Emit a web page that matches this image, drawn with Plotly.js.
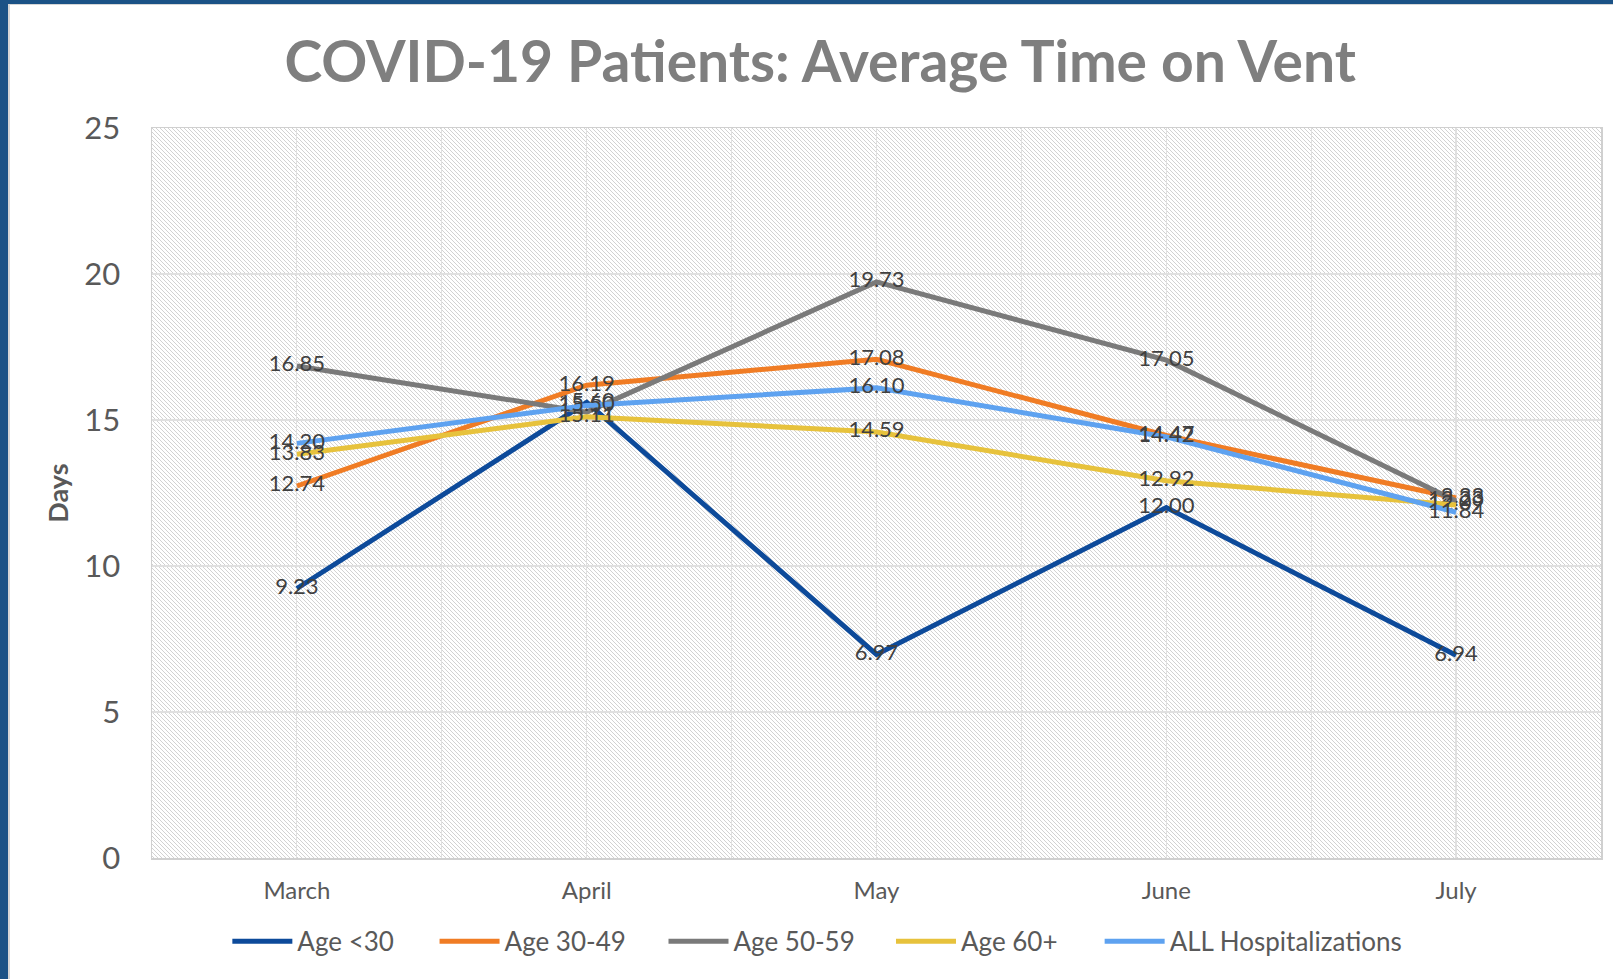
<!DOCTYPE html>
<html>
<head>
<meta charset="utf-8">
<script src="https://cdn.plot.ly/plotly-3.0.1.min.js"></script>
<style>
  html, body { margin:0; padding:0; width:1613px; height:979px; overflow:hidden; background:#ffffff; }
  #wrap { position:relative; width:1613px; height:979px; }
  #leftbar { position:absolute; left:0; top:0; width:8px; height:979px; background:#1b5286; }
  #leftline { position:absolute; left:8px; top:4px; width:2px; height:975px; background:#d6d6d6; }
  #topbar { position:absolute; left:0; top:0; width:1613px; height:4px; background:#1b5286; }
  #topline { position:absolute; left:8px; top:4px; width:1605px; height:1px; background:#d6d6d6; }
  #hatch { position:absolute; background-color:#ffffff; }
  #chart { position:absolute; left:0; top:0; width:1613px; height:979px; }
</style>
</head>
<body>
<div id="wrap">
  <div id="hatch"></div>
  <div id="chart"></div>
  <div id="topbar"></div>
  <div id="leftbar"></div>
  <div id="leftline"></div>
  <div id="topline"></div>
</div>
<script>
const months = ["March", "April", "May", "June", "July"];
const ageUnder30 = [9.23, 15.60, 6.97, 12.00, 6.94];
const age30to49 = [12.74, 16.19, 17.08, 14.47, 12.33];
const age50to59 = [16.85, 15.27, 19.73, 17.05, 12.23];
const age60plus = [13.83, 15.11, 14.59, 12.92, 12.09];
const allHosp = [14.20, 15.50, 16.10, 14.42, 11.84];
const yTicks = [0, 5, 10, 15, 20, 25];

const seriesNames = ["Age <30", "Age 30-49", "Age 50-59", "Age 60+", "ALL Hospitalizations"];
const seriesData = [ageUnder30, age30to49, age50to59, age60plus, allHosp];
const colors = ["#0d4a9a", "#f07c24", "#7a7a7a", "#e7c23c", "#5ea2f0"];

const idx = months.map((m, i) => i);
const FONT = "Lato, 'Open Sans', sans-serif";
const legendIds = ["legend", "legend2", "legend3", "legend4", "legend5"];
const legendX = [0.052, 0.195, 0.353, 0.510, 0.654];

const traces = seriesData.map((vals, k) => ({
  type: "scatter",
  mode: "lines+text",
  name: seriesNames[k],
  legend: legendIds[k],
  x: idx,
  y: vals,
  text: vals.map(v => v.toFixed(2)),
  textposition: "middle center",
  textfont: { family: FONT, size: 22, color: "#404040" },
  line: { color: colors[k], width: 5 },
  hoverinfo: "x+y+name"
}));

const M = { l: 152, r: 12, t: 128, b: 121 };
const layout = {
  width: 1613, height: 979,
  margin: M,
  paper_bgcolor: "rgba(0,0,0,0)",
  plot_bgcolor: "rgba(0,0,0,0)",
  title: {
    text: "<b>COVID-19 Patients: Average Time on Vent</b>",
    font: { family: FONT, size: 57, color: "#7f7f7f" },
    x: 0.5085, xanchor: "center", y: 0.937, yanchor: "middle"
  },
  xaxis: {
    range: [-0.5, 4.5],
    tickvals: idx,
    ticktext: months,
    tickfont: { family: FONT, size: 24, color: "#595959" },
    showgrid: true, gridcolor: "#e0e0e0", gridwidth: 1.2,
    minor: { tick0: 0.5, dtick: 1, showgrid: true, gridcolor: "#e0e0e0", gridwidth: 1.2 },
    zeroline: false,
    showline: true, linecolor: "#d0d0d0", linewidth: 1.5, mirror: true,
    ticks: "", ticklabelstandoff: 11, fixedrange: true
  },
  yaxis: {
    range: [0, 25],
    tickvals: yTicks,
    ticktext: yTicks.map(String),
    tickfont: { family: FONT, size: 31, color: "#595959" },
    showgrid: true, gridcolor: "#e0e0e0", gridwidth: 1.2,
    zeroline: false,
    showline: true, linecolor: "#d0d0d0", linewidth: 1.5, mirror: true,
    ticks: "", ticklabelstandoff: 24,
    title: { text: "<b>Days</b>", font: { family: FONT, size: 27, color: "#595959" }, standoff: 8 },
    fixedrange: true
  },
  showlegend: true
};

legendIds.forEach((id, k) => {
  layout[id] = {
    orientation: "h", x: legendX[k], xanchor: "left", y: -0.082, yanchor: "top",
    font: { family: FONT, size: 26, color: "#595959" },
    itemwidth: 60, bgcolor: "rgba(0,0,0,0)"
  };
});

// hatched plot background (pixel-exact tile)
const tile = document.createElement("canvas");
tile.width = 4; tile.height = 4;
const tctx = tile.getContext("2d");
tctx.fillStyle = "#ffffff"; tctx.fillRect(0, 0, 4, 4);
tctx.fillStyle = "#d2d2d2";
for (let i = 0; i < 4; i++) tctx.fillRect(i, i, 1, 1);

const hatch = document.getElementById("hatch");
hatch.style.left = M.l + "px";
hatch.style.top = M.t + "px";
hatch.style.width = (1613 - M.l - M.r) + "px";
hatch.style.height = (979 - M.t - M.b) + "px";
hatch.style.backgroundImage = "url(" + tile.toDataURL() + ")";
hatch.style.backgroundRepeat = "repeat";

Plotly.newPlot("chart", traces, layout, { displayModeBar: false, staticPlot: true });
</script>
</body>
</html>
